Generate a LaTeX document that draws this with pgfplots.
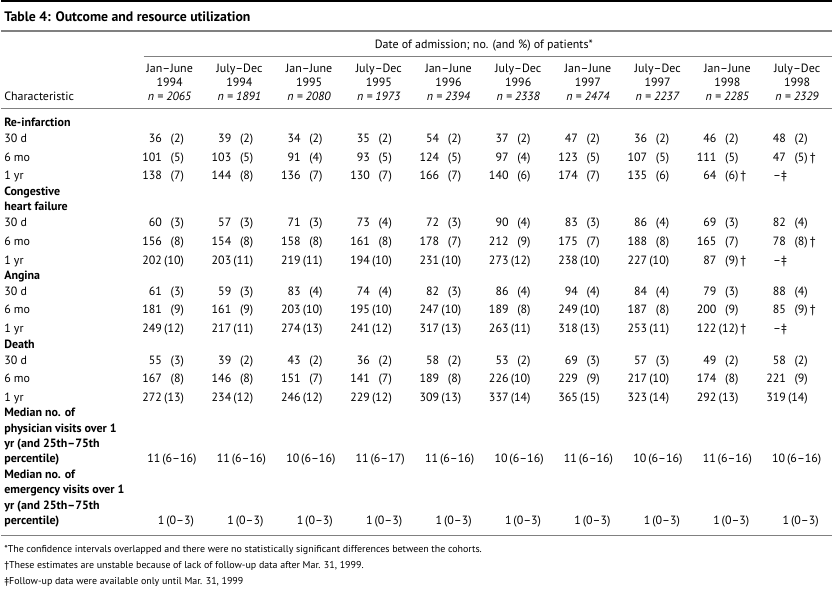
\documentclass[border=0pt]{standalone}
\usepackage{pgfplots}
\pgfplotsset{compat=1.18}
\usepackage{pgfplotstable}
\usepackage{fontspec}
\setmainfont{PT Sans}
\newcommand\bodyfont{\fontsize{12bp}{14bp}\selectfont}
\newcommand\footfont{\fontsize{10bp}{12bp}\selectfont}
\definecolor{rulegray}{gray}{0.5}

% cohort headers
\pgfplotstableread{
col half yr n
1 Jan--June 1994 2065
2 July--Dec 1994 1891
3 Jan--June 1995 2080
4 July--Dec 1995 1973
5 Jan--June 1996 2394
6 July--Dec 1996 2338
7 Jan--June 1997 2474
8 July--Dec 1997 2237
9 Jan--June 1998 2285
10 July--Dec 1998 2329
}\cohorts

% r: 0 = 30 d, 1 = 6 mo, 2 = 1 yr; f: 1 = unstable (dagger), 2 = no data (double dagger)
\pgfplotstableread{
col r n p f
1 0 36 2 0
2 0 39 2 0
3 0 34 2 0
4 0 35 2 0
5 0 54 2 0
6 0 37 2 0
7 0 47 2 0
8 0 36 2 0
9 0 46 2 0
10 0 48 2 0
1 1 101 5 0
2 1 103 5 0
3 1 91 4 0
4 1 93 5 0
5 1 124 5 0
6 1 97 4 0
7 1 123 5 0
8 1 107 5 0
9 1 111 5 0
10 1 47 5 1
1 2 138 7 0
2 2 144 8 0
3 2 136 7 0
4 2 130 7 0
5 2 166 7 0
6 2 140 6 0
7 2 174 7 0
8 2 135 6 0
9 2 64 6 1
10 2 -- 0 2
}\reinf

\pgfplotstableread{
col r n p f
1 0 60 3 0
2 0 57 3 0
3 0 71 3 0
4 0 73 4 0
5 0 72 3 0
6 0 90 4 0
7 0 83 3 0
8 0 86 4 0
9 0 69 3 0
10 0 82 4 0
1 1 156 8 0
2 1 154 8 0
3 1 158 8 0
4 1 161 8 0
5 1 178 7 0
6 1 212 9 0
7 1 175 7 0
8 1 188 8 0
9 1 165 7 0
10 1 78 8 1
1 2 202 10 0
2 2 203 11 0
3 2 219 11 0
4 2 194 10 0
5 2 231 10 0
6 2 273 12 0
7 2 238 10 0
8 2 227 10 0
9 2 87 9 1
10 2 -- 0 2
}\chf

\pgfplotstableread{
col r n p f
1 0 61 3 0
2 0 59 3 0
3 0 83 4 0
4 0 74 4 0
5 0 82 3 0
6 0 86 4 0
7 0 94 4 0
8 0 84 4 0
9 0 79 3 0
10 0 88 4 0
1 1 181 9 0
2 1 161 9 0
3 1 203 10 0
4 1 195 10 0
5 1 247 10 0
6 1 189 8 0
7 1 249 10 0
8 1 187 8 0
9 1 200 9 0
10 1 85 9 1
1 2 249 12 0
2 2 217 11 0
3 2 274 13 0
4 2 241 12 0
5 2 317 13 0
6 2 263 11 0
7 2 318 13 0
8 2 253 11 0
9 2 122 12 1
10 2 -- 0 2
}\angina

\pgfplotstableread{
col r n p f
1 0 55 3 0
2 0 39 2 0
3 0 43 2 0
4 0 36 2 0
5 0 58 2 0
6 0 53 2 0
7 0 69 3 0
8 0 57 3 0
9 0 49 2 0
10 0 58 2 0
1 1 167 8 0
2 1 146 8 0
3 1 151 7 0
4 1 141 7 0
5 1 189 8 0
6 1 226 10 0
7 1 229 9 0
8 1 217 10 0
9 1 174 8 0
10 1 221 9 0
1 2 272 13 0
2 2 234 12 0
3 2 246 12 0
4 2 229 12 0
5 2 309 13 0
6 2 337 14 0
7 2 365 15 0
8 2 323 14 0
9 2 292 13 0
10 2 319 14 0
}\death

% median visits (and 25th-75th percentile): physician m (range), emergency e (range)
\pgfplotstableread{
col m mr e er
1 11 6--16 1 0--3
2 11 6--16 1 0--3
3 10 6--16 1 0--3
4 11 6--17 1 0--3
5 11 6--16 1 0--3
6 10 6--16 1 0--3
7 11 6--16 1 0--3
8 10 6--16 1 0--3
9 11 6--16 1 0--3
10 10 6--16 1 0--3
}\visits

\pgfplotsset{
  txt/.style={draw=none, mark=none, point meta=explicit symbolic,
    nodes near coords style={inner sep=0pt, font=\bodyfont, text=black}},
  numcell/.style={txt, restrict expr to domain={\thisrow{f}}{0:1},
    nodes near coords={\pgfplotspointmeta},
    nodes near coords style={anchor=base east}},
  misscell/.style={txt, restrict expr to domain={\thisrow{f}}{2:2},
    nodes near coords={\pgfplotspointmeta\ddag},
    nodes near coords style={anchor=base east}},
  pctcell/.style={txt, restrict expr to domain={\thisrow{f}}{0:0},
    nodes near coords={(\pgfplotspointmeta)},
    nodes near coords style={anchor=base east}},
  daggercell/.style={txt, restrict expr to domain={\thisrow{f}}{1:1},
    nodes near coords={(\pgfplotspointmeta)\rlap{\,\dag}},
    nodes near coords style={anchor=base east}},
}

\begin{document}
\begin{tikzpicture}
\begin{axis}[
  x=1bp, y=1bp, y dir=reverse,
  xmin=0, xmax=833, ymin=0, ymax=596,
  hide axis, clip=false,
]
\addplot[draw=none] coordinates {(0,0) (833,596)};

% rules
\draw[black, line width=2.2bp] (axis cs:0,1.1) -- (axis cs:833,1.1);
\draw[rulegray, line width=1.3bp] (axis cs:0,31) -- (axis cs:833,31);
\draw[rulegray, line width=1bp] (axis cs:143,57) -- (axis cs:833,57);
\draw[rulegray, line width=1.4bp] (axis cs:0,109) -- (axis cs:833,109);
\draw[rulegray, line width=1.4bp] (axis cs:0,537) -- (axis cs:833,537);

% title and header
\node[anchor=base west, inner sep=0pt, font=\fontsize{13.8bp}{15bp}\selectfont\bfseries] at (axis cs:3,22) {Table 4: Outcome and resource utilization};
\node[anchor=base, inner sep=0pt, font=\bodyfont] at (axis cs:484,49) {Date of admission; no. (and \%) of patients*};
\node[anchor=base west, inner sep=0pt, font=\bodyfont] at (axis cs:3,101) {Characteristic};

\addplot[txt, nodes near coords={\pgfplotspointmeta}, nodes near coords style={anchor=base}]
  table[x expr={169+69.9*(\thisrow{col}-1)}, y expr=72.5, meta=half]{\cohorts};
\addplot[txt, nodes near coords={\pgfplotspointmeta}, nodes near coords style={anchor=base}]
  table[x expr={169+69.9*(\thisrow{col}-1)}, y expr=86.5, meta=yr]{\cohorts};
\addplot[txt, nodes near coords={\textit{n = \pgfplotspointmeta}}, nodes near coords style={anchor=base}]
  table[x expr={169+69.9*(\thisrow{col}-1)}, y expr=100.5, meta=n]{\cohorts};

% row labels
\begin{scope}[every node/.style={anchor=base west, inner sep=0pt, font=\bodyfont}]
\node[font=\bodyfont\bfseries] at (axis cs:3,126.5) {Re-infarction};
\node at (axis cs:3,143) {30 d};
\node at (axis cs:3,161.7) {6 mo};
\node at (axis cs:3,180.4) {1 yr};
\node[font=\bodyfont\bfseries] at (axis cs:3,196) {Congestive};
\node[font=\bodyfont\bfseries] at (axis cs:3,211) {heart failure};
\node at (axis cs:3,227.5) {30 d};
\node at (axis cs:3,246.2) {6 mo};
\node at (axis cs:3,264.9) {1 yr};
\node[font=\bodyfont\bfseries] at (axis cs:3,280) {Angina};
\node at (axis cs:3,296) {30 d};
\node at (axis cs:3,314.7) {6 mo};
\node at (axis cs:3,333.4) {1 yr};
\node[font=\bodyfont\bfseries] at (axis cs:3,349) {Death};
\node at (axis cs:3,365) {30 d};
\node at (axis cs:3,383.7) {6 mo};
\node at (axis cs:3,402.4) {1 yr};
\node[font=\bodyfont\bfseries] at (axis cs:3,418) {Median no. of};
\node[font=\bodyfont\bfseries] at (axis cs:3,433.3) {physician visits over 1};
\node[font=\bodyfont\bfseries] at (axis cs:3,448.6) {yr (and 25th--75th};
\node[font=\bodyfont\bfseries] at (axis cs:3,463.9) {percentile)};
\node[font=\bodyfont\bfseries] at (axis cs:3,480) {Median no. of};
\node[font=\bodyfont\bfseries] at (axis cs:3,495.3) {emergency visits over 1};
\node[font=\bodyfont\bfseries] at (axis cs:3,510.6) {yr (and 25th--75th};
\node[font=\bodyfont\bfseries] at (axis cs:3,525.9) {percentile)};
\end{scope}

% data cells
\addplot[numcell] table[x expr={161.5+69.5*(\thisrow{col}-1)}, y expr={143+18.7*\thisrow{r}}, meta=n]{\reinf};
\addplot[misscell] table[x expr={162.5+69.5*(\thisrow{col}-1)}, y expr={143+18.7*\thisrow{r}}, meta=n]{\reinf};
\addplot[pctcell] table[x expr={183.5+69.5*(\thisrow{col}-1)}, y expr={143+18.7*\thisrow{r}}, meta=p]{\reinf};
\addplot[daggercell] table[x expr={183.5+69.5*(\thisrow{col}-1)}, y expr={143+18.7*\thisrow{r}}, meta=p]{\reinf};

\addplot[numcell] table[x expr={161.5+69.5*(\thisrow{col}-1)}, y expr={227.5+18.7*\thisrow{r}}, meta=n]{\chf};
\addplot[misscell] table[x expr={162.5+69.5*(\thisrow{col}-1)}, y expr={227.5+18.7*\thisrow{r}}, meta=n]{\chf};
\addplot[pctcell] table[x expr={183.5+69.5*(\thisrow{col}-1)}, y expr={227.5+18.7*\thisrow{r}}, meta=p]{\chf};
\addplot[daggercell] table[x expr={183.5+69.5*(\thisrow{col}-1)}, y expr={227.5+18.7*\thisrow{r}}, meta=p]{\chf};

\addplot[numcell] table[x expr={161.5+69.5*(\thisrow{col}-1)}, y expr={296+18.7*\thisrow{r}}, meta=n]{\angina};
\addplot[misscell] table[x expr={162.5+69.5*(\thisrow{col}-1)}, y expr={296+18.7*\thisrow{r}}, meta=n]{\angina};
\addplot[pctcell] table[x expr={183.5+69.5*(\thisrow{col}-1)}, y expr={296+18.7*\thisrow{r}}, meta=p]{\angina};
\addplot[daggercell] table[x expr={183.5+69.5*(\thisrow{col}-1)}, y expr={296+18.7*\thisrow{r}}, meta=p]{\angina};

\addplot[numcell] table[x expr={161.5+69.5*(\thisrow{col}-1)}, y expr={365+18.7*\thisrow{r}}, meta=n]{\death};
\addplot[pctcell] table[x expr={183.5+69.5*(\thisrow{col}-1)}, y expr={365+18.7*\thisrow{r}}, meta=p]{\death};

\addplot[txt, nodes near coords={\pgfplotspointmeta}, nodes near coords style={anchor=base east}]
  table[x expr={160+69.6*(\thisrow{col}-1)}, y expr=463.9, meta=m]{\visits};
\addplot[txt, nodes near coords={(\pgfplotspointmeta)}, nodes near coords style={anchor=base west}]
  table[x expr={161.5+69.6*(\thisrow{col}-1)}, y expr=463.9, meta=mr]{\visits};
\addplot[txt, nodes near coords={\pgfplotspointmeta}, nodes near coords style={anchor=base east}]
  table[x expr={164+69.6*(\thisrow{col}-1)}, y expr=525.9, meta=e]{\visits};
\addplot[txt, nodes near coords={(\pgfplotspointmeta)}, nodes near coords style={anchor=base west}]
  table[x expr={165.5+69.6*(\thisrow{col}-1)}, y expr=525.9, meta=er]{\visits};

% footnotes
\begin{scope}[every node/.style={anchor=base west, inner sep=0pt, font=\footfont}]
\node at (axis cs:3,553.5) {*The confidence intervals overlapped and there were no statistically significant differences between the cohorts.};
\node at (axis cs:3,570) {\dag These estimates are unstable because of lack of follow-up data after Mar. 31, 1999.};
\node at (axis cs:3,586.5) {\ddag Follow-up data were available only until Mar. 31, 1999};
\end{scope}
\end{axis}
\end{tikzpicture}
\end{document}
